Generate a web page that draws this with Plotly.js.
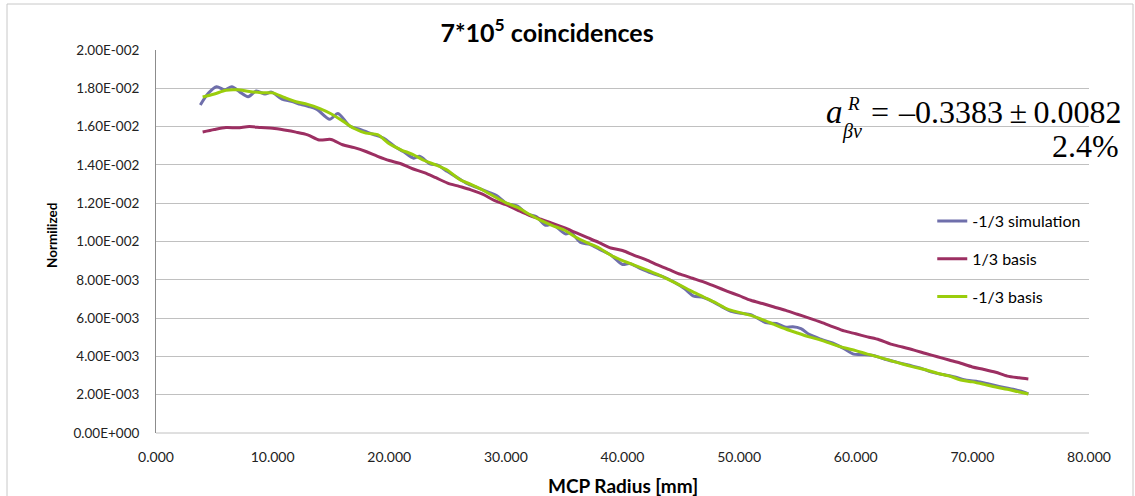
<!DOCTYPE html>
<html>
<head>
<meta charset="utf-8">
<script src="https://cdn.plot.ly/plotly-3.0.1.min.js"></script>
<style>html,body{margin:0;padding:0;background:#fff;}#chart{width:1135px;height:496px;}</style>
</head>
<body>
<div id="chart"></div>
<script>
// -1/3 simulation
var xSim = [3.8,4.5,5.2,5.9,6.5,7.2,7.9,8.6,9.35,9.9,10.8,11.6,12.4,13.1,13.8,14.9,15.6,16.6,17.5,18.6,19.5,20.5,21.2,22.1,22.6,23.5,24.1,25.0,25.8,26.6,27.6,28.6,29.2,30.1,31.0,31.8,32.6,33.4,34.0,35.1,35.6,36.4,37.2,38.0,39.0,40.0,40.6,41.5,42.5,43.5,44.5,45.3,46.1,46.8,47.6,48.5,49.3,50.2,51.0,52.0,52.4,53.2,54.0,54.6,55.3,56.0,57.0,58.0,59.0,59.8,60.6,61.5,62.5,63.5,64.5,65.5,66.5,67.5,68.5,69.5,70.5,71.5,72.5,73.5,74.2,74.8];
var ySim = [0.01713,0.01775,0.01808,0.01792,0.01808,0.01780,0.01756,0.01786,0.01770,0.01780,0.01743,0.01732,0.01716,0.01705,0.01690,0.01638,0.01669,0.01603,0.01585,0.01560,0.01540,0.01495,0.01470,0.01435,0.01445,0.01405,0.01400,0.01365,0.01335,0.01305,0.01280,0.01255,0.01240,0.01198,0.01185,0.01145,0.01130,0.01085,0.01090,0.01040,0.01045,0.00995,0.00985,0.00960,0.00930,0.00880,0.00885,0.00860,0.00835,0.00815,0.00785,0.00755,0.00715,0.00710,0.00690,0.00660,0.00635,0.00625,0.00618,0.00585,0.00575,0.00572,0.00552,0.00555,0.00545,0.00515,0.00490,0.00470,0.00440,0.00412,0.00410,0.00405,0.00385,0.00370,0.00355,0.00340,0.00318,0.00305,0.00292,0.00275,0.00268,0.00255,0.00240,0.00228,0.00218,0.00204];

// radius grid for the two basis curves
var xBasis = [4,5,6,7,8,9,10,11,12,13,14,15,16,17,18,19,20,21,22,23,24,25,26,27,28,29,30,31,32,33,34,35,36,37,38,39,40,41,42,43,44,45,46,47,48,49,50,51,52,53,54,55,56,57,58,59,60,61,62,63,64,65,66,67,68,69,70,71,72,73,74,74.8];
// 1/3 basis
var yPlus = [0.01572,0.01585,0.01595,0.01594,0.01600,0.01595,0.01591,0.01582,0.01571,0.01557,0.01530,0.01533,0.01505,0.01490,0.01470,0.01445,0.01423,0.01406,0.01380,0.01360,0.01333,0.01305,0.01288,0.01270,0.01247,0.01215,0.01192,0.01164,0.01137,0.01116,0.01095,0.01072,0.01046,0.01020,0.00994,0.00966,0.00953,0.00928,0.00905,0.00878,0.00853,0.00828,0.00808,0.00788,0.00764,0.00740,0.00717,0.00693,0.00676,0.00658,0.00640,0.00620,0.00600,0.00579,0.00556,0.00533,0.00518,0.00502,0.00487,0.00464,0.00449,0.00433,0.00415,0.00398,0.00381,0.00364,0.00345,0.00332,0.00317,0.00297,0.00288,0.00282];
// -1/3 basis
var yMinus = [0.01755,0.01770,0.01790,0.01792,0.01783,0.01777,0.01776,0.01752,0.01730,0.01716,0.01695,0.01667,0.01630,0.01590,0.01566,0.01558,0.01510,0.01479,0.01455,0.01423,0.01400,0.01372,0.01325,0.01298,0.01269,0.01235,0.01202,0.01178,0.01142,0.01110,0.01083,0.01060,0.01022,0.00993,0.00966,0.00928,0.00900,0.00877,0.00853,0.00828,0.00800,0.00770,0.00738,0.00709,0.00680,0.00647,0.00630,0.00614,0.00592,0.00567,0.00543,0.00522,0.00502,0.00485,0.00464,0.00445,0.00430,0.00412,0.00396,0.00378,0.00360,0.00344,0.00330,0.00312,0.00298,0.00277,0.00267,0.00254,0.00240,0.00228,0.00214,0.00204];

var seriesNames = ['-1/3 simulation', '1/3 basis', '-1/3 basis'];
var xTickVals = [0,10,20,30,40,50,60,70,80];
var xTickLabels = ['0.000','10.000','20.000','30.000','40.000','50.000','60.000','70.000','80.000'];
var yTickVals = [0,0.002,0.004,0.006,0.008,0.010,0.012,0.014,0.016,0.018,0.020];
var yTickLabels = ['0.00E+000','2.00E-003','4.00E-003','6.00E-003','8.00E-003','1.00E-002','1.20E-002','1.40E-002','1.60E-002','1.80E-002','2.00E-002'];

var F = 'Lato, "Open Sans", sans-serif';
var SERIF = '"Liberation Serif", "DejaVu Serif", serif';

var traces = [
  {x: xSim, y: ySim, name: seriesNames[0], mode: 'lines', legendgroup: 'a',
   line: {color: '#6f6fab', width: 3, shape: 'spline', smoothing: 0.8}},
  {x: xBasis, y: yPlus, name: seriesNames[1], mode: 'lines', legendgroup: 'b',
   line: {color: '#9c2f62', width: 3, shape: 'spline', smoothing: 0.8}},
  {x: xBasis, y: yMinus, name: seriesNames[2], mode: 'lines', legendgroup: 'c',
   line: {color: '#9acd0c', width: 3, shape: 'spline', smoothing: 0.8}}
];

function px2x(p) { return (p - 156) / 933; }
function px2y(p) { return (433 - p) / 383; }

var layout = {
  width: 1135, height: 496,
  margin: {l: 156, r: 46, t: 50, b: 63},
  paper_bgcolor: '#ffffff', plot_bgcolor: '#ffffff',
  font: {family: F, size: 13, color: '#222'},
  showlegend: true,
  title: {text: '<b>7*10<sup>5</sup> coincidences</b>', font: {family: F, size: 25, color: '#000'},
          xref: 'container', x: 0.482, xanchor: 'center', yref: 'container', y: 1 - 33/496, yanchor: 'middle'},
  xaxis: {range: [0, 80], tickvals: xTickVals, ticktext: xTickLabels, showgrid: false, zeroline: false,
          showline: false, ticks: '', ticklabelstandoff: 14, tickfont: {family: F, size: 14, color: '#222'}},
  yaxis: {range: [0, 0.02], tickvals: yTickVals, ticktext: yTickLabels, showgrid: true, gridcolor: '#c0c0c0', gridwidth: 1,
          zeroline: false, showline: true, linecolor: '#8c8c8c', linewidth: 1, ticks: '', ticklabelstandoff: 13,
          tickfont: {family: F, size: 13.5, color: '#222'}},
  legend: {x: 0.832, y: px2y(204), xanchor: 'left', yanchor: 'top', bgcolor: 'rgba(255,255,255,0)',
           font: {family: F, size: 16, color: '#000'}, tracegroupgap: 14, itemwidth: 30},
  annotations: [
    {text: '<b>MCP Radius [mm]</b>', xref: 'paper', yref: 'paper', x: 0.5, xanchor: 'center', y: px2y(486), yanchor: 'middle', showarrow: false,
     font: {family: F, size: 19, color: '#000'}},
    {text: '<b>Normilized</b>', xref: 'paper', yref: 'paper', x: px2x(52), xanchor: 'center', y: px2y(236), yanchor: 'middle', textangle: -90, showarrow: false,
     font: {family: F, size: 13.5, color: '#000'}},
    {text: '<i>a</i>', xref: 'paper', yref: 'paper', x: px2x(834), xanchor: 'center', y: px2y(112), yanchor: 'middle', showarrow: false,
     font: {family: SERIF, size: 33, color: '#000'}},
    {text: '<i>R</i>', xref: 'paper', yref: 'paper', x: px2x(853), xanchor: 'center', y: px2y(103), yanchor: 'middle', showarrow: false,
     font: {family: SERIF, size: 19, color: '#000'}},
    {text: '<i>βν</i>', xref: 'paper', yref: 'paper', x: px2x(852), xanchor: 'center', y: px2y(131), yanchor: 'middle', showarrow: false,
     font: {family: SERIF, size: 20, color: '#000'}},
    {text: '=', xref: 'paper', yref: 'paper', x: px2x(880), xanchor: 'center', y: px2y(112), yanchor: 'middle', showarrow: false,
     font: {family: SERIF, size: 32, color: '#000'}},
    {text: '–0.3383\u2009±\u20090.0082', xref: 'paper', yref: 'paper', x: px2x(1123), xanchor: 'right', y: px2y(112), yanchor: 'middle', showarrow: false,
     font: {family: SERIF, size: 32, color: '#000'}},
    {text: '2.4%', xref: 'paper', yref: 'paper', x: px2x(1121), xanchor: 'right', y: px2y(146), yanchor: 'middle', showarrow: false,
     font: {family: SERIF, size: 32, color: '#000'}}
  ],
  shapes: [
    {type: 'line', xref: 'paper', yref: 'paper', x0: 0, x1: 1, y0: 0, y1: 0, line: {color: '#c0c0c0', width: 1}},
    {type: 'rect', xref: 'paper', yref: 'paper', x0: px2x(7), x1: px2x(1133), y0: px2y(520), y1: px2y(4),
     line: {color: '#c8c8c8', width: 1}, layer: 'below'}
  ]
};

Plotly.newPlot('chart', traces, layout, {staticPlot: true, displayModeBar: false});
</script>
</body>
</html>
